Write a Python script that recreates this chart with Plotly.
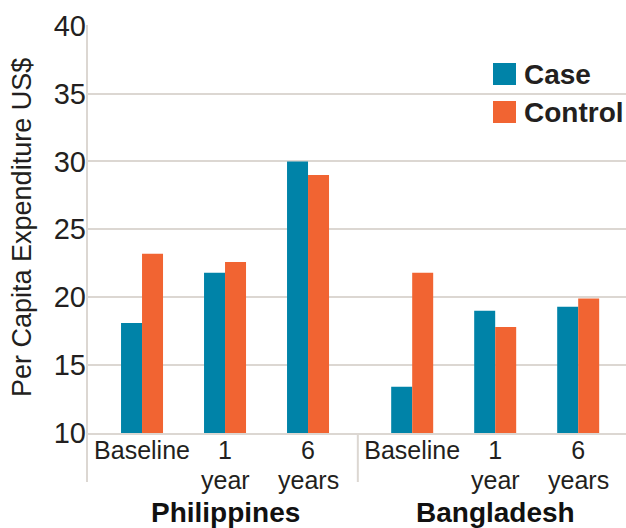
import plotly.graph_objects as go

# ---- data ----
countries = ["Philippines", "Bangladesh"]
periods_top = ["Baseline", "1", "6"]
periods_bottom = ["", "year", "years"]
case_values = [18.1, 21.8, 30.0, 13.4, 19.0, 19.3]
control_values = [23.2, 22.6, 29.0, 21.8, 17.8, 19.9]
y_ticks = [10, 15, 20, 25, 30, 35, 40]

# ---- layout constants ----
TEAL = "#0083A8"
ORANGE = "#F16432"
GRID = "#DCD7D2"
TXT = "#231F20"
FONT = "Liberation Sans, Arial, sans-serif"
GROUP_OFFSET = 3.255
BAR_W = 0.253
X_RANGE = [-0.663, 5.831]
SEP_X = 2.6

W, H = 626, 528
ML, MR, MT, MB = 87, 0, 25, 95

x_pos = [gi * GROUP_OFFSET + ci for gi in range(len(countries)) for ci in range(len(periods_top))]
x_text = [p for _ in countries for p in periods_top]
x_text2 = [p for _ in countries for p in periods_bottom]

fig = go.Figure()
fig.add_trace(go.Bar(x=x_pos, y=case_values, name="Case", marker=dict(color=TEAL, line=dict(width=0)),
                     width=BAR_W, offset=-BAR_W, showlegend=False))
fig.add_trace(go.Bar(x=x_pos, y=control_values, name="Control", marker=dict(color=ORANGE, line=dict(width=0)),
                     width=BAR_W, offset=0, showlegend=False))

pw = W - ML - MR
ph = H - MT - MB
def px_x(p):
    return (p - ML) / pw
def px_y(p):
    return (H - MB - p) / ph

shapes = []
# y axis line extended below plot
shapes.append(dict(type="line", xref="paper", yref="paper", x0=0, x1=0, y0=px_y(482), y1=1.0,
                   line=dict(color=GRID, width=2), layer="above"))
# group separator
shapes.append(dict(type="line", xref="x", yref="paper", x0=SEP_X, x1=SEP_X, y0=px_y(482), y1=0,
                   line=dict(color=GRID, width=2)))
# legend swatches
legend_items = [("Case", TEAL, 63, 74.5), ("Control", ORANGE, 101, 112)]
annotations = []
for name, col, top, mid in legend_items:
    shapes.append(dict(type="rect", xref="paper", yref="paper", x0=px_x(493), x1=px_x(516),
                       y0=px_y(top + 22), y1=px_y(top), fillcolor=col, line=dict(width=0)))
    annotations.append(dict(text=name, xref="paper", yref="paper", x=px_x(522), y=px_y(mid),
                            xanchor="left", yanchor="middle", showarrow=False,
                            font=dict(family=FONT, size=28, color=TXT, weight="bold")))

# second line of period labels
for xp, t in zip(x_pos, x_text2):
    if t:
        annotations.append(dict(text=t, xref="x", yref="paper", x=xp, y=px_y(479.5),
                                xanchor="center", yanchor="middle", showarrow=False,
                                font=dict(family=FONT, size=25, color=TXT)))

# country group labels
for gi, c in enumerate(countries):
    annotations.append(dict(text=f"<b>{c}</b>", xref="x", yref="paper", x=gi * GROUP_OFFSET + 1,
                            y=px_y(512), xanchor="center", yanchor="middle", showarrow=False,
                            font=dict(family=FONT, size=28, color="#111111")))

# y axis title
annotations.append(dict(text="Per Capita Expenditure US$", xref="paper", yref="paper", x=0, xshift=-65,
                        y=px_y(228), textangle=-90, xanchor="center", yanchor="middle", showarrow=False,
                        font=dict(family=FONT, size=27, color=TXT)))

fig.update_layout(
    width=W, height=H,
    margin=dict(l=ML, r=MR, t=MT, b=MB, pad=0),
    paper_bgcolor="white", plot_bgcolor="white",
    barmode="overlay",
    shapes=shapes, annotations=annotations,
    xaxis=dict(range=X_RANGE, tickmode="array", tickvals=x_pos, ticktext=x_text,
               showgrid=False, zeroline=False, showline=True, linecolor=GRID, linewidth=2,
               ticks="", ticklabelstandoff=-6,
               tickfont=dict(family=FONT, size=25, color=TXT), fixedrange=True),
    yaxis=dict(range=[10, 40.05], tickmode="array", tickvals=y_ticks,
               showgrid=True, gridcolor=GRID, gridwidth=2, zeroline=False, showline=False,
               ticks="", tickfont=dict(family=FONT, size=29, color=TXT), fixedrange=True),
    showlegend=False,
)

fig.write_html("out.html")
